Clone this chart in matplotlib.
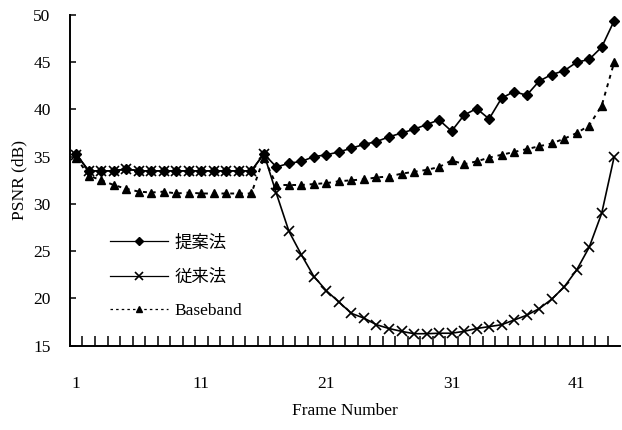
import numpy as np
import matplotlib
matplotlib.use('Agg')
import matplotlib.pyplot as plt
from matplotlib.ticker import FixedLocator

# frame numbers 1..44
frames = list(range(1, 45))

# proposed method (提案法)
proposed = [35.3, 33.5, 33.5, 33.5, 33.7, 33.5, 33.5, 33.5, 33.5, 33.5,
            33.5, 33.5, 33.5, 33.5, 33.5, 35.3, 33.9, 34.3, 34.5, 35.0,
            35.2, 35.5, 35.9, 36.3, 36.6, 37.1, 37.5, 37.9, 38.4, 38.9,
            37.7, 39.4, 40.1, 39.0, 41.2, 41.9, 41.5, 43.0, 43.7, 44.1,
            45.0, 45.3, 46.6, 49.4]

# conventional method (従来法)
conventional = [35.2, 33.5, 33.5, 33.5, 33.7, 33.5, 33.5, 33.5, 33.5, 33.5,
                33.5, 33.5, 33.5, 33.5, 33.5, 35.3, 31.1, 27.1, 24.6, 22.3,
                20.8, 19.6, 18.4, 17.9, 17.2, 16.8, 16.5, 16.25, 16.25, 16.3,
                16.3, 16.5, 16.8, 17.0, 17.2, 17.7, 18.2, 18.9, 19.9, 21.2,
                23.0, 25.4, 29.0, 35.0]

# Baseband
baseband = [34.9, 33.0, 32.5, 32.0, 31.6, 31.3, 31.2, 31.3, 31.1, 31.2,
            31.1, 31.1, 31.1, 31.1, 31.1, 34.9, 32.0, 32.0, 32.0, 32.1,
            32.2, 32.4, 32.5, 32.6, 32.8, 32.9, 33.2, 33.4, 33.6, 33.9,
            34.6, 34.2, 34.5, 34.9, 35.2, 35.5, 35.8, 36.1, 36.4, 36.9,
            37.5, 38.3, 40.4, 45.0]

x_labels = [1, 11, 21, 31, 41]
y_ticks = [15, 20, 25, 30, 35, 40, 45, 50]

SERIF = ['Liberation Serif', 'DejaVu Serif']
CJK = ['Noto Sans CJK JP', 'Liberation Serif']
FS = 12.5

fig = plt.figure(figsize=(6.22, 4.30), dpi=100)
ax = fig.add_axes([0.1125, 0.1965, 0.885, 0.7685])

ax.plot(frames, proposed, color='black', lw=1.2, marker='D', ms=5.5, label='提案法')
ax.plot(frames, conventional, color='black', lw=1.2, marker='x', ms=7, mew=1.2, label='従来法')
ax.plot(frames, baseband, color='black', lw=1.4, linestyle=(0, (2, 2.5)), marker='^', ms=5.5,
        label='Baseband')

ax.set_xlim(0.5, 44.5)
ax.set_ylim(15, 50)

for side in ['top', 'right']:
    ax.spines[side].set_visible(False)
for side in ['left', 'bottom']:
    ax.spines[side].set_linewidth(1.4)

# category-style x axis: labels on frames, ticks between frames
ax.set_xticks(x_labels)
ax.set_xticklabels([str(v) for v in x_labels], family=SERIF, fontsize=FS)
ax.tick_params(axis='x', which='major', length=0, pad=22)
ax.xaxis.set_minor_locator(FixedLocator(np.arange(1.5, 44.5, 1.0)))
ax.tick_params(axis='x', which='minor', direction='in', length=7, width=1.1)

ax.set_yticks(y_ticks)
ax.set_yticklabels([str(v) for v in y_ticks], family=SERIF, fontsize=FS)
ax.tick_params(axis='y', direction='in', length=4, width=1.1, pad=14)

ax.set_xlabel('Frame Number', family=SERIF, fontsize=FS, labelpad=8)
ax.set_ylabel('PSNR (dB)', family=SERIF, fontsize=FS, labelpad=4)

leg = ax.legend(loc='upper left', bbox_to_anchor=(0.045, 0.386), frameon=False,
                prop={'family': CJK, 'size': FS}, handlelength=3.3, handletextpad=0.4,
                labelspacing=0.95, markerscale=0.75)
for line in leg.get_lines():
    line.set_linewidth(0.9)
leg.get_texts()[2].set_family(SERIF)

fig.savefig('out.png', dpi=100)
